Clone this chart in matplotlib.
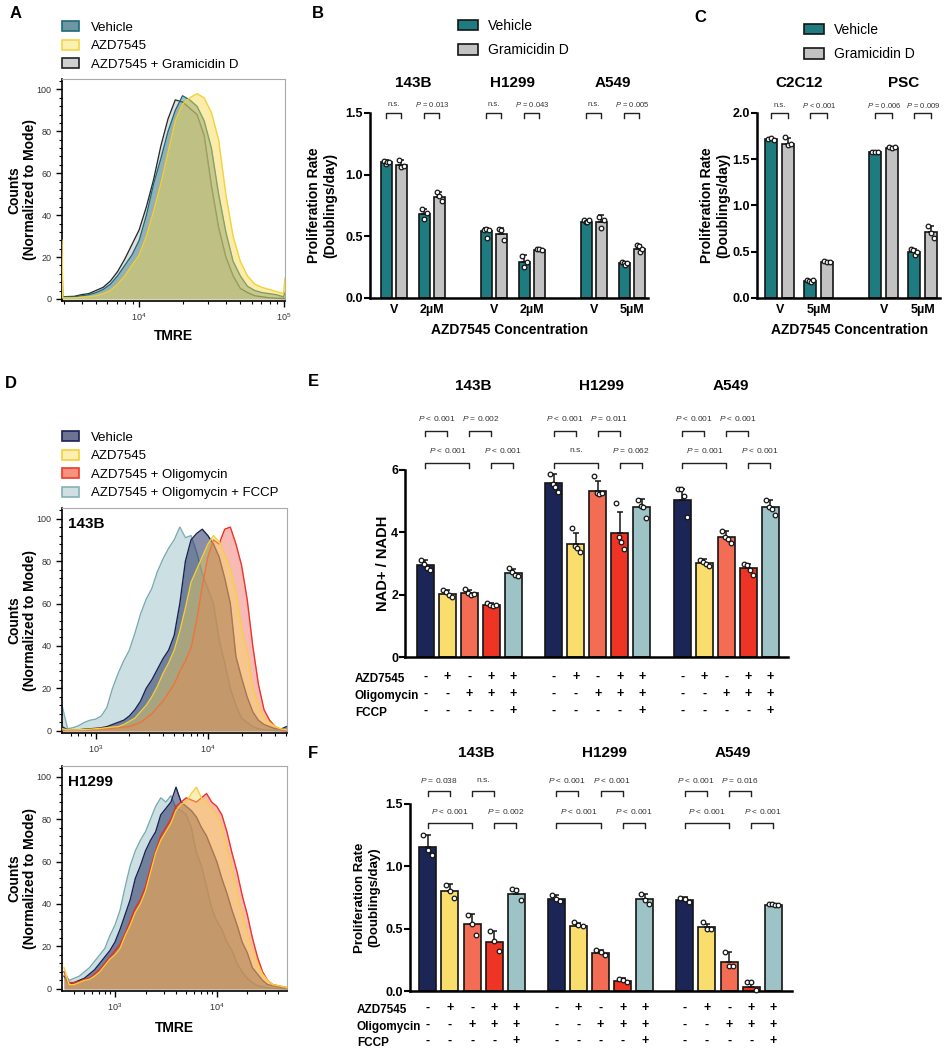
import numpy as np
import matplotlib
matplotlib.use('Agg')
import matplotlib.pyplot as plt
from matplotlib.patches import Patch
from matplotlib.ticker import MultipleLocator, LogLocator, NullFormatter
import matplotlib.transforms as mtransforms

plt.rcParams['font.family'] = ['Liberation Sans', 'DejaVu Sans']
plt.rcParams['mathtext.fontset'] = 'custom'
plt.rcParams['mathtext.rm'] = 'Liberation Sans'
plt.rcParams['mathtext.it'] = 'Liberation Sans:italic'
plt.rcParams['mathtext.bf'] = 'Liberation Sans:bold'

# ---------------- data ----------------
# panel A: TMRE histograms (log10 TMRE, % of mode)
a_x = [3.465, 3.47, 3.55, 3.6, 3.65, 3.7, 3.75, 3.8, 3.85, 3.9, 3.95, 4.0, 4.05, 4.1, 4.15, 4.2,
       4.25, 4.3, 4.35, 4.4, 4.45, 4.5, 4.55, 4.6, 4.65, 4.7, 4.75, 4.8, 4.85, 4.9, 4.95, 5.0, 5.01]
a_vehicle = [20, 1, 1, 1.5, 2, 3, 4.5, 7, 11, 16, 21, 28, 40, 55, 67, 80, 90, 97, 95, 92, 85,
             72, 50, 32, 18, 11, 6, 4, 3, 2.5, 2, 1, 3]
a_azd = [28, 0.5, 0.5, 0.8, 1, 1.5, 2.5, 4, 7, 11, 16, 21, 30, 42, 55, 70, 85, 93, 96, 98, 96,
         89, 76, 50, 30, 18, 11, 7, 5.5, 4.5, 3.5, 2.5, 10]
a_gram = [2, 1, 1.2, 2, 2.5, 4, 5.5, 8.5, 13, 19, 26, 33, 44, 57, 73, 86, 95, 94, 91, 88, 78,
          54, 34, 20, 11, 5, 3, 1.5, 1, 0.5, 0.3, 0.2, 0.2]

# panel D, 143B
d1_x = [2.70, 2.75, 2.80, 2.85, 2.90, 2.95, 3.00, 3.05, 3.10, 3.15, 3.20, 3.25, 3.30, 3.35,
        3.40, 3.45, 3.50, 3.55, 3.60, 3.65, 3.70, 3.75, 3.80, 3.85, 3.90, 3.95, 4.00, 4.05,
        4.10, 4.15, 4.20, 4.25, 4.30, 4.35, 4.40, 4.45, 4.50, 4.55, 4.60, 4.65, 4.70]
d1_fccp = [12, 1, 1.5, 2.5, 4, 5, 5.5, 7, 11, 20, 27, 33, 38, 46, 55, 62, 67, 75, 81, 86, 90,
           96, 91, 92, 84, 74, 67, 60, 43, 32, 20, 12, 6, 4, 2, 1, 0.5, 0.3, 0.2, 0.1, 0]
d1_vehicle = [2, 0.5, 0.5, 0.5, 0.8, 1, 1.2, 1.5, 2, 3, 4, 5, 7, 10, 14, 20, 24, 29, 34, 38,
              45, 60, 80, 90, 93, 95, 92, 88, 82, 72, 60, 35, 25, 16, 9, 5, 3, 2, 1, 0.8, 2]
d1_azd = [1, 0.5, 0.5, 0.5, 0.6, 0.8, 1, 1.2, 1.5, 1.8, 2, 3, 4.5, 6, 9, 12, 16, 21, 27, 32,
          38, 47, 58, 70, 76, 82, 88, 92, 89, 83, 76, 65, 48, 37, 20, 12, 6, 4, 2, 1, 0.5]
d1_oligo = [0.5, 0.3, 0.3, 0.3, 0.4, 0.5, 0.6, 0.8, 1, 1.2, 1.5, 1.8, 2, 3, 4, 6, 8, 11, 14,
            18, 22, 28, 33, 39, 52, 68, 82, 90, 88, 95, 96, 88, 78, 62, 40, 22, 10, 5, 2, 0.5, 0]

# panel D, H1299
d2_x = [2.50, 2.55, 2.60, 2.65, 2.70, 2.75, 2.80, 2.85, 2.90, 2.95, 3.00, 3.05, 3.10, 3.15,
        3.20, 3.25, 3.30, 3.35, 3.40, 3.45, 3.50, 3.55, 3.60, 3.65, 3.70, 3.75, 3.80, 3.85,
        3.90, 3.95, 4.00, 4.05, 4.10, 4.15, 4.20, 4.25, 4.30, 4.35, 4.40, 4.45, 4.50, 4.55,
        4.60, 4.65, 4.70]
d2_fccp = [8, 4, 5, 6, 8, 10, 13, 16, 19, 25, 30, 37, 48, 58, 65, 70, 74, 80, 86, 90, 88, 91,
           85, 84, 82, 76, 64, 58, 48, 38, 32, 28, 22, 18, 12, 8, 5, 3, 1.5, 1, 0.5, 0.3, 0.2,
           0.1, 0]
d2_vehicle = [6, 2, 3, 4, 5, 7, 9, 12, 15, 18, 22, 28, 35, 42, 52, 58, 65, 70, 74, 82, 85, 88,
              95, 88, 86, 84, 81, 76, 72, 66, 60, 52, 45, 37, 30, 22, 17, 10, 7, 4, 2, 1.5, 1,
              0.5, 0.3]
d2_azd = [10, 2, 2, 3, 4, 4.5, 6, 8, 11, 14, 16, 19, 25, 30, 36, 40, 46, 55, 64, 70, 74, 78,
          84, 87, 88, 92, 95, 90, 88, 85, 82, 76, 66, 57, 45, 35, 26, 18, 12, 7, 4, 2, 1.5, 1,
          0.5]
d2_oligo = [8, 3, 3, 3.5, 4.5, 5, 7, 9, 12, 15, 18, 21, 26, 32, 38, 42, 48, 57, 65, 72, 76, 80,
            86, 88, 90, 89, 88, 90, 92, 88, 86, 82, 74, 64, 55, 44, 35, 24, 15, 8, 4, 2, 1.5,
            1, 0.5]

# panel B: proliferation, Vehicle vs Gramicidin D
b_cells = ['143B', 'H1299', 'A549']
b_conc = [['V', '2µM'], ['V', '2µM'], ['V', '5µM']]
b_veh_mean = [[1.10, 0.68], [0.54, 0.29], [0.62, 0.28]]
b_veh_sd = [[0.02, 0.045], [0.03, 0.055], [0.01, 0.015]]
b_veh_dots = [[[1.11, 1.09, 1.10, 1.10], [0.72, 0.64, 0.69]],
              [[0.55, 0.56, 0.49, 0.55], [0.34, 0.25, 0.29]],
              [[0.63, 0.62, 0.62, 0.63], [0.29, 0.28, 0.27, 0.28]]]
b_gram_mean = [[1.08, 0.82], [0.52, 0.39], [0.62, 0.40]]
b_gram_sd = [[0.04, 0.04], [0.05, 0.01], [0.05, 0.03]]
b_gram_dots = [[[1.12, 1.06, 1.07], [0.86, 0.83, 0.79]],
               [[0.56, 0.55, 0.47], [0.40, 0.40, 0.39]],
               [[0.66, 0.57, 0.63], [0.43, 0.42, 0.37, 0.40]]]
b_p = [['n.s.', '$P$ = 0.013'], ['n.s.', '$P$ = 0.043'], ['n.s.', '$P$ = 0.005']]

# panel C
c_cells = ['C2C12', 'PSC']
c_conc = [['V', '5µM'], ['V', '5µM']]
c_veh_mean = [[1.72, 0.18], [1.58, 0.50]]
c_veh_sd = [[0.015, 0.01], [0.005, 0.03]]
c_veh_dots = [[[1.72, 1.73, 1.71], [0.19, 0.18, 0.17, 0.19]],
              [[1.58, 1.58, 1.58], [0.53, 0.52, 0.47, 0.50]]]
c_gram_mean = [[1.67, 0.39], [1.62, 0.71]]
c_gram_sd = [[0.06, 0.01], [0.01, 0.07]]
c_gram_dots = [[[1.74, 1.65, 1.66], [0.40, 0.39, 0.39]],
               [[1.63, 1.62, 1.63], [0.78, 0.70, 0.65]]]
c_p = [['n.s.', '$P$ < 0.001'], ['$P$ = 0.006', '$P$ = 0.009']]

# panel E: NAD+/NADH
ef_cells = ['143B', 'H1299', 'A549']
e_mean = [[2.95, 2.03, 2.04, 1.67, 2.70],
          [5.59, 3.64, 5.33, 3.99, 4.80],
          [5.04, 3.01, 3.84, 2.84, 4.80]]
e_sd = [[0.15, 0.12, 0.11, 0.07, 0.13],
        [0.28, 0.35, 0.32, 0.66, 0.26],
        [0.36, 0.12, 0.21, 0.16, 0.25]]
e_dots = [[[3.12, 2.98, 2.85, 2.80], [2.15, 2.10, 1.98, 1.92], [2.18, 2.06, 2.00, 2.02],
           [1.74, 1.66, 1.65, 1.66], [2.86, 2.74, 2.62, 2.60]],
          [[5.87, 5.55, 5.45, 5.30], [4.15, 3.55, 3.50, 3.38], [5.80, 5.25, 5.22, 5.27],
           [4.95, 3.85, 3.70, 3.48], [5.05, 4.85, 4.80, 4.47]],
          [[5.40, 5.38, 5.15, 4.50], [3.12, 3.05, 2.98, 2.93], [4.05, 3.85, 3.80, 3.65],
           [2.98, 2.95, 2.78, 2.62], [5.05, 4.82, 4.75, 4.55]]]
e_p_top = [['$P$ < 0.001', '$P$ = 0.002'], ['$P$ < 0.001', '$P$ = 0.011'],
           ['$P$ < 0.001', '$P$ < 0.001']]
e_p_low = [['$P$ < 0.001', '$P$ < 0.001'], ['n.s.', '$P$ = 0.062'],
           ['$P$ = 0.001', '$P$ < 0.001']]

# panel F: proliferation
f_mean = [[1.155, 0.80, 0.535, 0.395, 0.775],
          [0.74, 0.525, 0.305, 0.083, 0.74],
          [0.73, 0.51, 0.235, 0.03, 0.69]]
f_sd = [[0.095, 0.055, 0.085, 0.085, 0.045],
        [0.03, 0.02, 0.025, 0.02, 0.04],
        [0.025, 0.03, 0.075, 0.045, 0.005]]
f_dots = [[[1.25, 1.13, 1.09], [0.85, 0.80, 0.75], [0.61, 0.54, 0.45], [0.48, 0.40, 0.32],
           [0.82, 0.81, 0.73]],
          [[0.77, 0.74, 0.72], [0.55, 0.53, 0.52], [0.33, 0.31, 0.29], [0.10, 0.09, 0.07],
           [0.78, 0.73, 0.70]],
          [[0.75, 0.74, 0.71], [0.55, 0.50, 0.50], [0.31, 0.20, 0.20], [0.07, 0.07, 0.01],
           [0.70, 0.70, 0.69, 0.69]]]
f_p_top = [['$P$ = 0.038', 'n.s.'], ['$P$ < 0.001', '$P$ < 0.001'],
           ['$P$ < 0.001', '$P$ = 0.016']]
f_p_low = [['$P$ < 0.001', '$P$ = 0.002'], ['$P$ < 0.001', '$P$ < 0.001'],
           ['$P$ < 0.001', '$P$ < 0.001']]

row_names = ['AZD7545', 'Oligomycin', 'FCCP']
row_signs = [['-', '+', '-', '+', '+'], ['-', '-', '+', '+', '+'], ['-', '-', '-', '-', '+']]

teal = '#1e7b80'
grey = '#c2c2c2'
bar_cols = ['#1b2556', '#f9de6e', '#f26d54', '#ee3525', '#9dc3c7']

# ---------------- figure ----------------
W, H = 945, 1050
fig = plt.figure(figsize=(W / 100, H / 100), dpi=100)


def px_axes(l, t, r, b):
    return fig.add_axes([l / W, 1 - b / H, (r - l) / W, (b - t) / H])


def ftext(x, y, s, **kw):
    fig.text(x / W, 1 - y / H, s, **kw)


def style_hist(ax, xlo, xhi):
    ax.set_xscale('log')
    ax.set_xlim(10 ** xlo, 10 ** xhi)
    ax.set_ylim(-1, 105)
    ax.yaxis.set_major_locator(MultipleLocator(20))
    ax.yaxis.set_minor_locator(MultipleLocator(4))
    ax.xaxis.set_major_locator(LogLocator(base=10))
    ax.xaxis.set_minor_locator(LogLocator(base=10, subs=np.arange(2, 10)))
    ax.xaxis.set_minor_formatter(NullFormatter())
    ax.tick_params(which='major', length=4, width=1, labelsize=6.5, labelcolor='#333')
    ax.tick_params(which='minor', length=2, width=0.8)
    for s in ['top', 'right']:
        ax.spines[s].set_color('#aaaaaa')
        ax.spines[s].set_linewidth(0.8)
    for s in ['left', 'bottom']:
        ax.spines[s].set_linewidth(1.2)


def hist(ax, xl, y, fill, edge, alpha, z):
    # each curve is laid over the previous ones, so earlier outlines get tinted
    xs = 10 ** np.array(xl)
    ax.plot(xs, y, color=edge, lw=1.0, zorder=z)
    ax.fill_between(xs, y, 0, color=fill, alpha=alpha, lw=0, zorder=z + 0.5)


def style_bar(ax, ticks, labels):
    for s in ['top', 'right']:
        ax.spines[s].set_visible(False)
    for s in ['left', 'bottom']:
        ax.spines[s].set_linewidth(1.8)
    ax.set_yticks(ticks)
    ax.set_yticklabels(labels, fontweight='bold', fontsize=9)
    ax.tick_params(axis='y', length=4, width=1.5, pad=1)


def bar(ax, x, m, s, dots, color, width):
    ax.bar(x, m, width, color=color, edgecolor='#151515', lw=1.2, zorder=2)
    ax.errorbar(x, m, yerr=[[0], [s]], fmt='none', ecolor='#151515', elinewidth=1.1,
                capsize=2.5, capthick=1.1, zorder=3)
    off = np.linspace(-0.25, 0.25, len(dots)) * width
    ax.scatter(x + off, dots, s=11, facecolor='white', edgecolor='#151515', lw=0.9,
               zorder=4, clip_on=False)


def bracket(ax, x1, x2, y, leg, text, ty, fs):
    ax.plot([x1, x1, x2, x2], [y - leg, y, y, y - leg], color='#222', lw=1.0, clip_on=False)
    ax.text((x1 + x2) / 2, ty, text, ha='center', va='center', fontsize=fs, color='#333')


def leg(handles, labels, x, y, fs, spacing, hl=1.3, pad=0.9):
    fig.legend(handles, labels, loc='upper left', bbox_to_anchor=(x / W, 1 - y / H),
               frameon=False, fontsize=fs, handlelength=hl, handleheight=0.8,
               handletextpad=pad, labelspacing=spacing, borderpad=0, borderaxespad=0)


# ---- panel A ----
axA = px_axes(62, 79, 285, 301)
style_hist(axA, 3.465, 5.01)
hist(axA, a_x, a_gram, '#b8b8b8', '#2a2a2a', 0.45, 2)
hist(axA, a_x, a_vehicle, '#46828f', '#1d6a78', 0.5, 3)
hist(axA, a_x, a_azd, '#f5d746', '#f6cf2a', 0.45, 4)
axA.set_xlabel('TMRE', fontsize=10, fontweight='bold', labelpad=4)
ftext(22, 190, 'Counts\n(Normalized to Mode)', rotation=90, ha='center', va='center',
      fontsize=10, fontweight='bold', multialignment='center')
leg([Patch(facecolor='#6f97a3', edgecolor='#1d6a78', lw=1.2),
     Patch(facecolor='#fcf0b2', edgecolor='#f6d545', lw=1.2),
     Patch(facecolor='#d0d0d0', edgecolor='#222', lw=1.2)],
    ['Vehicle', 'AZD7545', 'AZD7545 + Gramicidin D'], 62, 21, 9.5, 0.45)

# ---- panel D ----
d_handles = [Patch(facecolor='#6c7394', edgecolor='#1a2255', lw=1.2),
             Patch(facecolor='#fbefb3', edgecolor='#f5cf35', lw=1.2),
             Patch(facecolor='#f4937e', edgecolor='#ee3a28', lw=1.2),
             Patch(facecolor='#cfe0e3', edgecolor='#86b0b7', lw=1.2)]
leg(d_handles, ['Vehicle', 'AZD7545', 'AZD7545 + Oligomycin', 'AZD7545 + Oligomycin + FCCP'],
    62, 431, 9.5, 0.45)

for top, bot, xl, xlo, xhi, curves, name in [
        (508, 733, d1_x, 2.70, 4.705, (d1_fccp, d1_vehicle, d1_azd, d1_oligo), '143B'),
        (766, 991, d2_x, 2.48, 4.69, (d2_fccp, d2_vehicle, d2_azd, d2_oligo), 'H1299')]:
    ax = px_axes(62, top, 287, bot)
    style_hist(ax, xlo, xhi)
    fc, vh, az, ol = curves
    hist(ax, xl, fc, '#9bc3c8', '#7aa9b0', 0.5, 2)
    hist(ax, xl, vh, '#1e285a', '#1a2255', 0.52, 3)
    hist(ax, xl, ol, '#ee4a3c', '#ee2a20', 0.38, 4)
    hist(ax, xl, az, '#f5d75a', '#f5cf35', 0.42, 5)
    ax.text(0.027, 0.93, name, transform=ax.transAxes, fontsize=11, fontweight='bold',
            ha='left', va='center', zorder=10)
    ftext(22, (top + bot) / 2, 'Counts\n(Normalized to Mode)', rotation=90, ha='center',
          va='center', fontsize=10, fontweight='bold', multialignment='center')
    if name == 'H1299':
        ax.set_xlabel('TMRE', fontsize=10, fontweight='bold', labelpad=6)

# ---- panels B and C ----
for (l, t, r, b), cells, conc, vm, vs, vd, gm, gs, gd, pv, cstep, cond, soff, wid, xl, ymax, \
        yt, ylx, xlx, tity, py, pleg, pty, legx, legy in [
        ((370, 113, 648, 298), b_cells, b_conc, b_veh_mean, b_veh_sd, b_veh_dots, b_gram_mean,
         b_gram_sd, b_gram_dots, b_p, 1.0, 0.38, 0.075, 0.115, (-0.24, 2.54), 1.5,
         ['0.0', '0.5', '1.0', '1.5'], 322, 510, 1.74, 1.5, 0.04, 1.565, 458, 19),
        ((757, 113, 940, 298), c_cells, c_conc, c_veh_mean, c_veh_sd, c_veh_dots, c_gram_mean,
         c_gram_sd, c_gram_dots, c_p, 1.04, 0.39, 0.085, 0.12, (-0.23, 1.6), 2.0,
         ['0.0', '0.5', '1.0', '1.5', '2.0'], 715, 850, 2.32, 2.0, 0.054, 2.086, 804, 23)]:
    ax = px_axes(l, t, r, b)
    ax.set_xlim(*xl)
    ax.set_ylim(0, ymax)
    style_bar(ax, np.arange(len(yt)) * 0.5, yt)
    centers, labels = [], []
    for i, cell in enumerate(cells):
        for j in range(2):
            xc = i * cstep + j * cond
            bar(ax, xc - soff, vm[i][j], vs[i][j], vd[i][j], teal, wid)
            bar(ax, xc + soff, gm[i][j], gs[i][j], gd[i][j], grey, wid)
            bracket(ax, xc - soff, xc + soff, py, pleg, pv[i][j], pty, 5.5)
            centers.append(xc)
            labels.append(conc[i][j])
        ax.text(i * cstep + cond / 2, tity, cell, ha='center', va='center', fontsize=11,
                fontweight='bold')
    ax.set_xticks(centers)
    ax.set_xticklabels(labels, fontweight='bold', fontsize=9)
    ax.tick_params(axis='x', length=0, pad=4)
    ftext(xlx, 330, 'AZD7545 Concentration', ha='center', va='center', fontsize=10,
          fontweight='bold')
    ftext(ylx, (t + b) / 2, 'Proliferation Rate\n(Doublings/day)', rotation=90, ha='center',
          va='center', fontsize=10, fontweight='bold', multialignment='center')
    leg([Patch(facecolor=teal, edgecolor='#151515', lw=1.2),
         Patch(facecolor=grey, edgecolor='#151515', lw=1.2)],
        ['Vehicle', 'Gramicidin D'], legx, legy, 10, 0.75, 1.45, 0.7)

# ---- panels E and F ----
for (l, t, r, b), mean, sd, dots, ptop, plow, bstep, xl, ymax, yt, ytl, ylab, ylx, yfs, \
        tity, up, lo, lg, tup, tlo, rows, rlx in [
        ((405, 470, 788, 657), e_mean, e_sd, e_dots, e_p_top, e_p_low, 0.22, (-0.205, 3.625),
         6, [0, 2, 4, 6], ['0', '2', '4', '6'], 'NAD+ / NADH', 383, 10.5, 8.7, 7.26, 6.24,
         0.16, 7.65, 6.62, [677, 694, 711], 355),
        ((410, 804, 792, 991), f_mean, f_sd, f_dots, f_p_top, f_p_low, 0.222, (-0.177, 3.643),
         1.5, [0, 0.5, 1.0, 1.5], ['0.0', '0.5', '1.0', '1.5'],
         'Proliferation Rate\n(Doublings/day)', 367, 9.5, 1.91, 1.605, 1.35, 0.04, 1.69,
         1.44, [1008, 1025, 1041], 357)]:
    ax = px_axes(l, t, r, b)
    ax.set_xlim(*xl)
    ax.set_ylim(0, ymax)
    style_bar(ax, yt, ytl)
    ax.set_xticks([])
    tr = mtransforms.blended_transform_factory(ax.transData, fig.transFigure)
    for g, cell in enumerate(ef_cells):
        xs = [g * 1.285 + k * bstep for k in range(5)]
        for k in range(5):
            bar(ax, xs[k], mean[g][k], sd[g][k], dots[g][k], bar_cols[k], 0.17)
            for r_i, ry in enumerate(rows):
                ax.text(xs[k], 1 - ry / H, row_signs[r_i][k], transform=tr, ha='center',
                        va='center', fontsize=9, fontweight='bold')
        bracket(ax, xs[0], xs[1], up, lg, ptop[g][0], tup, 6)
        bracket(ax, xs[2], xs[3], up, lg, ptop[g][1], tup, 6)
        bracket(ax, xs[0], xs[2], lo, lg, plow[g][0], tlo, 6)
        bracket(ax, xs[3], xs[4], lo, lg, plow[g][1], tlo, 6)
        ax.text((xs[0] + xs[4]) / 2 + 0.04, tity, cell, ha='center', va='center', fontsize=11,
                fontweight='bold')
    for r_i, ry in enumerate(rows):
        ftext(rlx, ry + 2, row_names[r_i], ha='left', va='center', fontsize=8.5,
              fontweight='bold')
    ftext(ylx, (t + b) / 2, ylab, rotation=90, ha='center', va='center', fontsize=yfs,
          fontweight='bold', multialignment='center')

# panel letters
for s, x, y in [('A', 16, 13), ('B', 318, 13), ('C', 700, 18), ('D', 11, 384),
                ('E', 313, 382), ('F', 313, 753)]:
    ftext(x, y, s, ha='center', va='center', fontsize=12, fontweight='bold')

fig.savefig('out.png', dpi=100)
